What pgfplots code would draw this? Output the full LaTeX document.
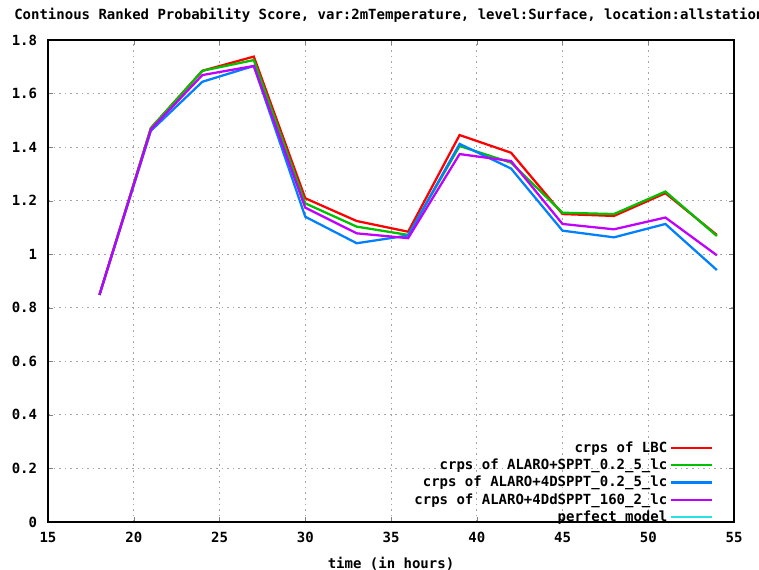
\documentclass[border=0pt]{standalone}
\usepackage{fontspec}
\setmainfont{DejaVu Sans Mono}[BoldFont={* Bold}]
\usepackage{pgfplots}
\pgfplotsset{compat=1.18}
\definecolor{gpred}{RGB}{255,0,0}
\definecolor{gpgreen}{RGB}{0,192,0}
\definecolor{gpblue}{RGB}{0,128,255}
\definecolor{gppurple}{RGB}{192,0,255}
\definecolor{gpcyan}{RGB}{40,225,225}
\newcommand{\gpfont}{\fontsize{10.5pt}{12.5pt}\selectfont\bfseries}
\begin{document}
\gpfont
\begin{tikzpicture}
\begin{axis}[
  name=ax,
  scale only axis,
  width=514.5pt, height=361.5pt,
  xmin=15, xmax=55, ymin=0, ymax=1.8,
  xtick={15,20,...,55},
  ytick={0,0.2,0.4,0.6,0.8,1,1.2,1.4,1.6,1.8},
  /pgf/number format/assume math mode=true,
  /pgf/number format/fixed,
  ticklabel style={font=\gpfont},
  xticklabel style={yshift=-4pt},
  yticklabel style={xshift=-4.5pt},
  tick align=inside,
  major tick length=4pt,
  grid=major,
  major grid style={gray!70, line width=0.6pt, dash pattern=on 1.2pt off 3pt},
  axis line style={black, line width=0.8pt},
  xlabel={time (in hours)},
  xlabel style={font=\gpfont, yshift=-3.5pt},
  legend plot pos=right,
  legend cell align=right,
  legend style={draw=none, fill=none, at={(rel axis cs:0.972,-0.012)}, anchor=south east,
    font=\gpfont, row sep=-0.6pt, inner sep=1pt},
  legend image code/.code={\draw[#1] (0cm,0cm) -- (1.08cm,0cm);},
]
\addplot[gpred, line width=1.7pt] coordinates {
 (18,0.848) (21,1.471) (24,1.685) (27,1.738) (30,1.209) (33,1.124) (36,1.084)
 (39,1.445) (42,1.379) (45,1.150) (48,1.143) (51,1.228) (54,1.072)};
\addlegendentry{crps of LBC}
\addplot[gpgreen, line width=1.7pt] coordinates {
 (18,0.848) (21,1.471) (24,1.685) (27,1.725) (30,1.190) (33,1.103) (36,1.072)
 (39,1.404) (42,1.342) (45,1.155) (48,1.150) (51,1.234) (54,1.068)};
\addlegendentry{crps of ALARO+SPPT\_0.2\_5\_lc}
\addplot[gpblue, line width=1.7pt] coordinates {
 (18,0.848) (21,1.461) (24,1.644) (27,1.703) (30,1.140) (33,1.041) (36,1.070)
 (39,1.412) (42,1.320) (45,1.088) (48,1.063) (51,1.113) (54,0.941)};
\addlegendentry{crps of ALARO+4DSPPT\_0.2\_5\_lc}
\addplot[gppurple, line width=1.7pt] coordinates {
 (18,0.848) (21,1.466) (24,1.669) (27,1.703) (30,1.174) (33,1.078) (36,1.060)
 (39,1.374) (42,1.348) (45,1.113) (48,1.093) (51,1.137) (54,0.996)};
\addlegendentry{crps of ALARO+4DdSPPT\_160\_2\_lc}
\addlegendimage{gpcyan, line width=1pt}
\addlegendentry{perfect model}
\end{axis}
\node[anchor=base west, inner sep=0pt] at ([xshift=-25.5pt, yshift=15.5pt]ax.north west)
  {\gpfont Continous Ranked Probability Score, var:2mTemperature, level:Surface, location:allstations};
\pgfresetboundingbox
\path[use as bounding box] ([xshift=-36pt,yshift=-36pt]ax.south west) rectangle ([xshift=18.75pt,yshift=30pt]ax.north east);
\end{tikzpicture}
\end{document}
